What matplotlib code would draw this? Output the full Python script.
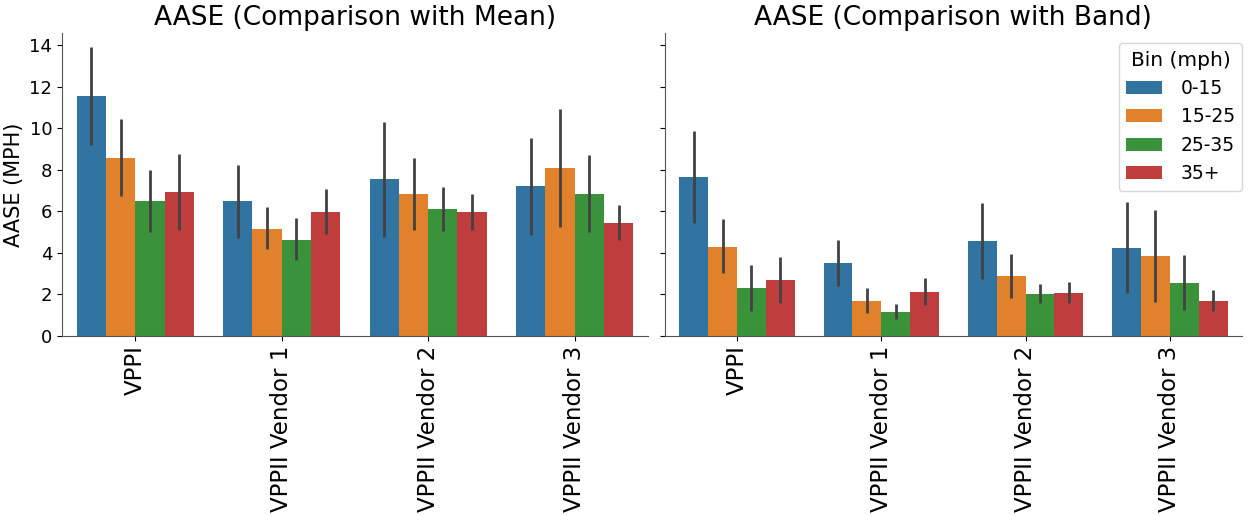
import numpy as np
import matplotlib
matplotlib.use("Agg")
import matplotlib.pyplot as plt

vendors = ["VPPI", "VPPII Vendor 1", "VPPII Vendor 2", "VPPII Vendor 3"]
bins = ["0-15", "15-25", "25-35", "35+"]
colors = ["#3274a1", "#e1812c", "#3a923a", "#c03d3e"]

# rows = vendor, columns = speed bin
mean_vals = np.array([
    [11.55, 8.57, 6.48, 6.93],
    [6.48, 5.17, 4.64, 5.99],
    [7.56, 6.83, 6.09, 5.98],
    [7.20, 8.07, 6.83, 5.46],
])
mean_lo = np.array([
    [9.18, 6.72, 4.99, 5.12],
    [4.72, 4.16, 3.64, 4.90],
    [4.78, 5.11, 5.04, 5.11],
    [4.88, 5.25, 4.98, 4.61],
])
mean_hi = np.array([
    [13.94, 10.47, 7.97, 8.75],
    [8.23, 6.20, 5.67, 7.09],
    [10.33, 8.55, 7.15, 6.85],
    [9.55, 10.92, 8.72, 6.32],
])

band_vals = np.array([
    [7.65, 4.30, 2.30, 2.69],
    [3.51, 1.69, 1.16, 2.11],
    [4.56, 2.88, 2.03, 2.08],
    [4.24, 3.85, 2.56, 1.69],
])
band_lo = np.array([
    [5.46, 3.03, 1.19, 1.59],
    [2.42, 1.11, 0.81, 1.47],
    [2.75, 1.80, 1.59, 1.59],
    [2.08, 1.64, 1.26, 1.19],
])
band_hi = np.array([
    [9.86, 5.61, 3.40, 3.79],
    [4.64, 2.29, 1.55, 2.80],
    [6.38, 3.93, 2.48, 2.58],
    [6.43, 6.07, 3.90, 2.21],
])


def draw(ax, vals, lo, hi, title):
    x = np.arange(len(vendors))
    w = 0.8 / len(bins)
    for j, b in enumerate(bins):
        pos = x - 0.4 + w * (j + 0.5)
        ax.bar(pos, vals[:, j], width=w, color=colors[j], label=b)
        ax.vlines(pos, lo[:, j], hi[:, j], color="#424242", lw=2.0, zorder=3)
    ax.set_xticks(x)
    ax.set_xticklabels(vendors, rotation=90, fontsize=16.5)
    ax.set_xlim(-0.5, len(vendors) - 0.5)
    ax.set_title(title, fontsize=19)
    for s in ["top", "right"]:
        ax.spines[s].set_visible(False)
    for s in ["left", "bottom"]:
        ax.spines[s].set_color("#555555")
    ax.tick_params(axis="y", labelsize=13)


fig = plt.figure(figsize=(12.52, 5.15), dpi=100)
ax1 = fig.add_axes([0.0495, 0.348, 0.468, 0.588])
ax2 = fig.add_axes([0.531, 0.348, 0.461, 0.588], sharey=ax1)

draw(ax1, mean_vals, mean_lo, mean_hi, "AASE (Comparison with Mean)")
draw(ax2, band_vals, band_lo, band_hi, "AASE (Comparison with Band)")
ax1.set_ylim(0, 14.6)
ax1.set_yticks(np.arange(0, 15, 2))
ax1.set_ylabel("AASE (MPH)", fontsize=15)
plt.setp(ax2.get_yticklabels(), visible=False)

leg = ax2.legend(title="Bin (mph)", loc="upper right", fontsize=13.5,
                 title_fontsize=14.5, labelspacing=0.5, handlelength=1.9,
                 handletextpad=1.0, borderaxespad=0.3,
                 bbox_to_anchor=(1.01, 0.985))

fig.savefig("out.png", dpi=100)
